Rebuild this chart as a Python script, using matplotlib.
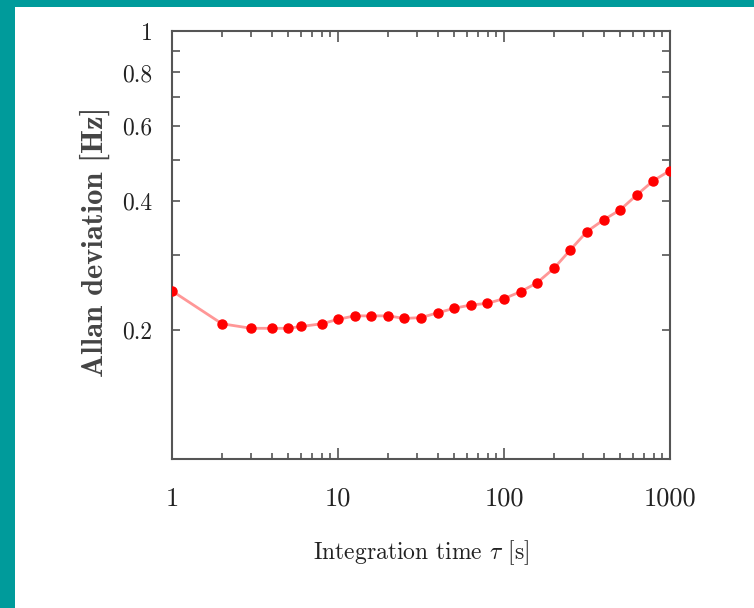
import numpy as np
import matplotlib
matplotlib.use("Agg")
import matplotlib.pyplot as plt
from matplotlib.ticker import FixedLocator, FixedFormatter, NullFormatter

plt.rcParams['mathtext.fontset'] = 'cm'
plt.rcParams['font.family'] = 'cmr10'
plt.rcParams['axes.formatter.use_mathtext'] = True

# integration time [s] and Allan deviation [Hz]
tau = [1, 2, 3, 4, 5, 6, 8, 10, 12.6, 15.8, 20, 25.1, 31.6, 39.8, 50.1, 63.1,
       79.4, 100, 126, 158, 200, 251, 316, 398, 501, 631, 794, 1000]
adev = [0.247, 0.207, 0.202, 0.202, 0.202, 0.204, 0.207, 0.212, 0.216, 0.216,
        0.216, 0.213, 0.214, 0.2195, 0.225, 0.229, 0.231, 0.237, 0.246, 0.258,
        0.279, 0.308, 0.340, 0.362, 0.382, 0.414, 0.447, 0.472]

x_ticks = [1, 10, 100, 1000]
x_labels = ['1', '10', '100', '1000']
y_ticks = [0.2, 0.4, 0.6, 0.8, 1.0]
y_labels = ['0.2', '0.4', '0.6', '0.8', '1']
y_minor = [0.1, 0.3, 0.5, 0.7, 0.9]

teal = '#009b9b'
fig = plt.figure(figsize=(7.54, 6.08), dpi=100, facecolor=teal)
# white page with teal strips on top and left
fig.patches.append(plt.Rectangle((15 / 754, 0), 1, 1 - 7 / 608, transform=fig.transFigure,
                                 facecolor='white', edgecolor='none', zorder=-5))

ax = fig.add_axes([172 / 754, 1 - 459 / 608, 498 / 754, 428 / 608])
ax.set_zorder(2)
ax.set_xscale('log')
ax.set_yscale('log')
ax.set_xlim(1, 1000)
ax.set_ylim(0.1, 1)

ax.plot(tau, adev, '-', color='#ff3030', alpha=0.5, lw=2, zorder=2)
ax.plot(tau, adev, 'o', color='#ff0000', ms=6.5, mec='#ff0000', zorder=3)

ax.xaxis.set_major_locator(FixedLocator(x_ticks))
ax.xaxis.set_major_formatter(FixedFormatter(x_labels))
ax.xaxis.set_minor_locator(FixedLocator([m * d for d in [1, 10, 100] for m in range(2, 10)]))
ax.xaxis.set_minor_formatter(NullFormatter())
ax.yaxis.set_major_locator(FixedLocator(y_ticks))
ax.yaxis.set_major_formatter(FixedFormatter(y_labels))
ax.yaxis.set_minor_locator(FixedLocator(y_minor))
ax.yaxis.set_minor_formatter(NullFormatter())

edge = '#555555'
for s in ax.spines.values():
    s.set_color(edge)
    s.set_linewidth(1.5)
ax.tick_params(axis='both', which='both', direction='in', top=True, right=True,
               color=edge, width=1.2, labelcolor='#222222', labelsize=17)
ax.tick_params(axis='x', which='major', length=8, pad=20, labelsize=19)
ax.tick_params(axis='x', which='minor', length=4)
ax.tick_params(axis='y', which='both', length=6, pad=14)

fig.text(421 / 754, 1 - 553 / 608, r'Integration time $\tau$ [s]', ha='center', va='center',
         fontsize=17, color='#222222')
fig.text(95 / 754, 1 - 242 / 608, 'Allan deviation [Hz]', ha='center', va='center',
         rotation=90, fontsize=22, family='cmb10', color='#444444')

fig.savefig('out.png', dpi=100, facecolor=teal)
